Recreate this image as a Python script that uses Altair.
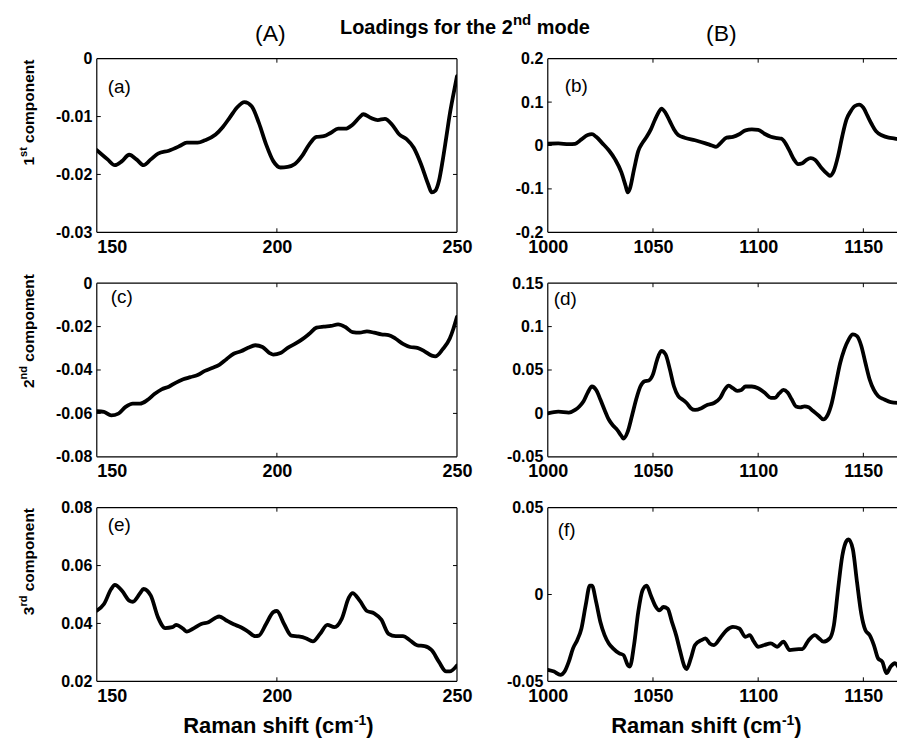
import altair as alt
import pandas as pd

# ---------------- values ----------------
a_x = [150, 153, 155, 157, 159, 161, 163, 165, 167, 170, 173, 175, 178, 180, 183, 185, 187, 189, 191, 193,
       195, 197, 199, 201, 203, 205, 207, 209, 211, 213, 215, 217, 219, 221, 223, 224, 226, 228, 230, 232,
       234, 236, 238, 240, 242, 243, 244, 245, 246, 247, 248, 249, 250]
a_y = [-0.0158, -0.0174, -0.0184, -0.0177, -0.0166, -0.0174, -0.0184, -0.0174, -0.0164, -0.0159,
       -0.0151, -0.0145, -0.0145, -0.0141, -0.0131, -0.0118, -0.0101, -0.0084, -0.0075, -0.0082,
       -0.0111, -0.0148, -0.0177, -0.0188, -0.0187, -0.0182, -0.0168, -0.0148, -0.0135, -0.0134,
       -0.0128, -0.0121, -0.0121, -0.0114, -0.0101, -0.0096, -0.0102, -0.0106, -0.0104, -0.0114,
       -0.0131, -0.0139, -0.0154, -0.0182, -0.0217, -0.0231, -0.0228, -0.0211, -0.0177, -0.0137,
       -0.0096, -0.0062, -0.0030]

b_x = [1000, 1005, 1010, 1013, 1016, 1019, 1021, 1023, 1026, 1029, 1032, 1035, 1037, 1038, 1039, 1041,
       1043, 1045, 1047, 1049, 1051, 1053, 1054, 1056, 1058, 1060, 1062, 1065, 1070, 1075, 1078, 1080,
       1082, 1085, 1088, 1091, 1094, 1097, 1100, 1103, 1106, 1109, 1111, 1113, 1115, 1117, 1119, 1121,
       1123, 1125, 1127, 1130, 1133, 1134, 1136, 1138, 1140, 1142, 1144, 1146, 1148, 1150, 1152, 1154,
       1156, 1159, 1162, 1165, 1167]
b_y = [0.004, 0.005, 0.003, 0.004, 0.014, 0.024, 0.026, 0.020, 0.005, -0.011,
       -0.032, -0.062, -0.093, -0.108, -0.100, -0.055, -0.013, 0.006, 0.020, 0.037,
       0.060, 0.079, 0.085, 0.075, 0.056, 0.037, 0.024, 0.018, 0.012, 0.005,
       0.000, -0.003, 0.005, 0.018, 0.020, 0.026, 0.035, 0.037, 0.036, 0.027,
       0.020, 0.017, 0.016, 0.005, -0.013, -0.032, -0.043, -0.041, -0.033, -0.029,
       -0.033, -0.051, -0.066, -0.070, -0.058, -0.024, 0.022, 0.060, 0.079, 0.091,
       0.094, 0.087, 0.068, 0.049, 0.033, 0.023, 0.018, 0.016, 0.014]

c_x = [150, 152, 154, 156, 158, 160, 162, 164, 166, 168, 170, 172, 174, 176, 178, 180, 182, 184, 186, 188,
       190, 192, 194, 196, 198, 199, 201, 203, 205, 207, 209, 211, 213, 215, 217, 219, 221, 223, 225, 227,
       229, 231, 233, 235, 237, 239, 241, 243, 244, 246, 248, 249, 250]
c_y = [-0.0590, -0.0593, -0.0609, -0.0601, -0.0570, -0.0555, -0.0555, -0.0539, -0.0511, -0.0489,
       -0.0477, -0.0458, -0.0443, -0.0433, -0.0423, -0.0404, -0.0391, -0.0376, -0.0350, -0.0325,
       -0.0314, -0.0298, -0.0286, -0.0294, -0.0322, -0.0329, -0.0322, -0.0298, -0.0280, -0.0259,
       -0.0233, -0.0205, -0.0200, -0.0197, -0.0190, -0.0202, -0.0225, -0.0228, -0.0222, -0.0228,
       -0.0236, -0.0239, -0.0256, -0.0280, -0.0294, -0.0298, -0.0314, -0.0334, -0.0337, -0.0305,
       -0.0255, -0.0210, -0.0155]

d_x = [1000, 1005, 1010, 1013, 1015, 1017, 1019, 1021, 1023, 1025, 1027, 1029, 1031, 1033, 1035, 1036,
       1038, 1040, 1042, 1044, 1046, 1048, 1050, 1052, 1054, 1056, 1058, 1060, 1062, 1064, 1066, 1068,
       1070, 1073, 1076, 1079, 1082, 1084, 1086, 1088, 1090, 1092, 1094, 1097, 1100, 1103, 1106, 1108,
       1110, 1112, 1114, 1116, 1118, 1120, 1122, 1124, 1126, 1129, 1131, 1133, 1135, 1137, 1139, 1141,
       1143, 1145, 1147, 1149, 1151, 1153, 1155, 1157, 1160, 1163, 1167]
d_y = [0.000, 0.002, 0.001, 0.004, 0.008, 0.014, 0.024, 0.031, 0.027, 0.016,
       0.004, -0.007, -0.014, -0.019, -0.026, -0.029, -0.021, -0.003, 0.016, 0.031,
       0.037, 0.038, 0.045, 0.062, 0.072, 0.068, 0.051, 0.031, 0.020, 0.016,
       0.012, 0.006, 0.004, 0.006, 0.010, 0.012, 0.018, 0.027, 0.032, 0.029,
       0.026, 0.027, 0.031, 0.031, 0.029, 0.024, 0.018, 0.018, 0.023, 0.027,
       0.024, 0.016, 0.008, 0.007, 0.008, 0.007, 0.003, -0.003, -0.007, -0.002,
       0.012, 0.035, 0.058, 0.074, 0.085, 0.091, 0.089, 0.078, 0.058, 0.039,
       0.027, 0.020, 0.016, 0.013, 0.012]

e_x = [150, 152, 154, 155, 157, 159, 160, 162, 163, 165, 167, 169, 171, 172, 174, 175, 177, 179, 181, 183,
       184, 186, 188, 190, 192, 194, 195, 197, 199, 200, 202, 204, 206, 208, 210, 212, 214, 216, 218, 220,
       221, 223, 225, 227, 229, 231, 233, 235, 237, 239, 241, 243, 245, 247, 248, 250]
e_y = [0.0444, 0.0467, 0.0519, 0.0533, 0.0513, 0.0479, 0.0475, 0.0504, 0.0519, 0.0496,
       0.0421, 0.0384, 0.0387, 0.0395, 0.0381, 0.0372, 0.0384, 0.0398, 0.0404, 0.0420,
       0.0424, 0.0410, 0.0397, 0.0387, 0.0372, 0.0356, 0.0358, 0.0398, 0.0439, 0.0443,
       0.0398, 0.0358, 0.0355, 0.0349, 0.0338, 0.0364, 0.0395, 0.0387, 0.0416, 0.0490,
       0.0505, 0.0479, 0.0443, 0.0435, 0.0413, 0.0364, 0.0356, 0.0356, 0.0341, 0.0324,
       0.0322, 0.0307, 0.0267, 0.0234, 0.0234, 0.0255]

f_x = [1000, 1003, 1006, 1008, 1010, 1012, 1014, 1016, 1018, 1020, 1021, 1023, 1025, 1027, 1029, 1031,
       1034, 1036, 1038, 1039, 1041, 1043, 1045, 1047, 1049, 1051, 1053, 1055, 1057, 1059, 1061, 1063,
       1065, 1066, 1068, 1070, 1073, 1075, 1077, 1079, 1082, 1085, 1088, 1091, 1094, 1096, 1098, 1100,
       1103, 1106, 1109, 1112, 1115, 1118, 1121, 1124, 1127, 1129, 1131, 1134, 1136, 1138, 1140, 1142,
       1143, 1145, 1147, 1149, 1151, 1153, 1155, 1157, 1159, 1161, 1163, 1165, 1167]
f_y = [-0.0434, -0.0444, -0.0463, -0.0444, -0.0387, -0.0310, -0.0263, -0.0196, -0.0063, 0.0051,
       0.0051, -0.0044, -0.0158, -0.0234, -0.0282, -0.0310, -0.0339, -0.0349, -0.0406, -0.0415,
       -0.0291, -0.0101, 0.0023, 0.0051, -0.0006, -0.0063, -0.0091, -0.0072, -0.0082, -0.0158,
       -0.0234, -0.0330, -0.0415, -0.0429, -0.0368, -0.0291, -0.0263, -0.0253, -0.0282, -0.0291,
       -0.0250, -0.0206, -0.0187, -0.0196, -0.0244, -0.0234, -0.0272, -0.0301, -0.0291, -0.0282,
       -0.0301, -0.0272, -0.0320, -0.0316, -0.0314, -0.0263, -0.0234, -0.0253, -0.0272, -0.0253,
       -0.0177, 0.0032, 0.0223, 0.0309, 0.0318, 0.0261, 0.0070, -0.0110, -0.0206, -0.0234,
       -0.0291, -0.0368, -0.0387, -0.0453, -0.0415, -0.0396, -0.0425]

A_XDOMAIN = [150, 250]
B_XDOMAIN = [1000, 1166]
A_XTICKS = [150, 200, 250]
B_XTICKS = [1000, 1050, 1100, 1150]
a_ydomain, a_yticks = [-0.03, 0], [-0.03, -0.02, -0.01, 0]
b_ydomain, b_yticks = [-0.2, 0.2], [-0.2, -0.1, 0, 0.1, 0.2]
c_ydomain, c_yticks = [-0.08, 0], [-0.08, -0.06, -0.04, -0.02, 0]
d_ydomain, d_yticks = [-0.05, 0.15], [-0.05, 0, 0.05, 0.1, 0.15]
e_ydomain, e_yticks = [0.02, 0.08], [0.02, 0.04, 0.06, 0.08]
f_ydomain, f_yticks = [-0.05, 0.05], [-0.05, 0, 0.05]

PANEL_TAGS = ["(a)", "(b)", "(c)", "(d)", "(e)", "(f)"]
COLUMN_TAGS = ["(A)", "(B)"]
TITLE_PARTS = ["Loadings for the 2", "nd", " mode"]
ROW_LABEL_PARTS = [["1", "st", " component"], ["2", "nd", " compoment"], ["3", "rd", " component"]]
XTITLE_PARTS = ["Raman shift (cm", "-1", ")"]

# ---------------- layout / style ----------------
W_A, W_B, H = 361, 350, 174
COL_GAP, ROW_GAP = 91, 51
LEFT, TOP = 96, 57
FONT = "Liberation Sans, Arial, sans-serif"
LINE_W = 3.8
ONE = pd.DataFrame({"k": [0]})

BOLD_W = {" ": 278, "(": 333, ")": 333, "-": 333, "L": 611, "R": 722, "a": 556, "c": 556, "d": 611,
          "e": 556, "f": 333, "g": 611, "h": 611, "i": 278, "m": 889, "n": 611, "o": 611, "p": 611,
          "r": 389, "s": 556, "t": 333}


def tw(s, size):
    return sum(BOLD_W.get(ch, 556) for ch in s) * size / 1000.0


def text_mark(s, x, y, size, weight="bold", align="left", baseline="alphabetic", angle=None):
    kw = dict(text=s, font=FONT, fontSize=size, fontWeight=weight, align=align,
              baseline=baseline, color="black")
    if angle is not None:
        kw["angle"] = angle
    return alt.Chart(ONE).mark_text(**kw).encode(x=alt.value(x), y=alt.value(y))


def h_pieces(parts, sizes, raises, cx, base_y):
    total = sum(tw(p, s) for p, s in zip(parts, sizes))
    x = cx - total / 2
    out = []
    for p, s, r in zip(parts, sizes, raises):
        lead = tw(p[: len(p) - len(p.lstrip())], s)
        out.append(text_mark(p.strip(), x + lead, base_y - r, s))
        x += tw(p, s)
    return out


def v_pieces(parts, sizes, raises, base_x, cy):
    total = sum(tw(p, s) for p, s in zip(parts, sizes))
    y = cy + total / 2
    out = []
    for p, s, r in zip(parts, sizes, raises):
        lead = tw(p[: len(p) - len(p.lstrip())], s)
        out.append(text_mark(p.strip(), base_x - r, y - lead, s, angle=270))
        y -= tw(p, s)
    return out


def panel(xs, ys, xdom, xticks, ydom, yticks, width, right_border, extras, left_flush_first):
    df = pd.DataFrame({"x": xs, "y": ys})
    xsc = alt.Scale(domain=xdom, nice=False, zero=False)
    ysc = alt.Scale(domain=ydom, nice=False, zero=False)
    xkw = dict(values=xticks, title=None, format="d", labelFlush=False)
    if left_flush_first:
        xkw["labelAlign"] = {"condition": {"test": f"datum.value == {xdom[0]}", "value": "left"},
                             "value": "center"}
    xax = alt.Axis(**xkw)
    yax = alt.Axis(values=yticks, title=None, format=".2~f", labelFlush=False,
                   labelExpr="replace(datum.label, '\u2212', '-')")
    X = alt.X("x:Q", scale=xsc, axis=xax)
    Y = alt.Y("y:Q", scale=ysc, axis=yax)

    line = alt.Chart(df).mark_line(color="black", strokeWidth=LINE_W, interpolate="monotone",
                                   clip=True, strokeJoin="round", strokeCap="round").encode(x=X, y=Y)
    layers = [line]

    xin = [v for v in xticks if xdom[0] < v < xdom[1]]
    yin = [v for v in yticks if ydom[0] < v < ydom[1]]
    tx = alt.Chart(pd.DataFrame({"x": xin})).mark_rule(color="black", strokeWidth=1)
    layers.append(tx.encode(x=X, y=alt.value(0), y2=alt.value(4)))
    layers.append(tx.encode(x=X, y=alt.value(H), y2=alt.value(H - 4)))
    ty = alt.Chart(pd.DataFrame({"y": yin})).mark_rule(color="black", strokeWidth=1)
    layers.append(ty.encode(y=Y, x=alt.value(0), x2=alt.value(4)))
    if right_border:
        layers.append(ty.encode(y=Y, x=alt.value(width), x2=alt.value(width - 4)))

    b = alt.Chart(ONE).mark_rule(color="black", strokeWidth=1.2)
    layers.append(b.encode(x=alt.value(0), x2=alt.value(width), y=alt.value(0)))
    layers.append(b.encode(x=alt.value(0), x2=alt.value(width), y=alt.value(H)))
    layers.append(b.encode(x=alt.value(0), y=alt.value(0), y2=alt.value(H)))
    if right_border:
        layers.append(b.encode(x=alt.value(width), y=alt.value(0), y2=alt.value(H)))

    layers.extend(extras)
    return alt.layer(*layers).properties(width=width, height=H)


def tag(s, x, y):
    return text_mark(s, x, y, 19, weight="normal", align="left", baseline="middle")


row_sizes, row_raises = [15.5, 11, 15.5], [0, 7, 0]
title_sizes, title_raises = [20, 15, 20], [0, 9, 0]
xt_sizes, xt_raises = [22, 14, 22], [0, 8, 0]

anchor = alt.Chart(ONE).mark_rule(opacity=0, strokeWidth=0.01).encode(
    x=alt.value(-LEFT), x2=alt.value(-LEFT), y=alt.value(-TOP), y2=alt.value(-TOP))

extras_a = ([anchor, tag(PANEL_TAGS[0], 11, 28),
             text_mark(COLUMN_TAGS[0], 174, -18, 23, weight="normal", align="center")]
            + h_pieces(TITLE_PARTS, title_sizes, title_raises, 369, -25)
            + v_pieces(ROW_LABEL_PARTS[0], row_sizes, row_raises, -63, 54))
extras_b = [tag(PANEL_TAGS[1], 17, 27),
            text_mark(COLUMN_TAGS[1], 174, -18, 23, weight="normal", align="center")]
extras_c = [tag(PANEL_TAGS[2], 14, 14)] + v_pieces(ROW_LABEL_PARTS[1], row_sizes, row_raises, -63, 48)
extras_d = [tag(PANEL_TAGS[3], 6, 16)]
extras_e = ([tag(PANEL_TAGS[4], 11, 17)]
            + v_pieces(ROW_LABEL_PARTS[2], row_sizes, row_raises, -63, 54)
            + h_pieces(XTITLE_PARTS, xt_sizes, xt_raises, 182, 226))
extras_f = [tag(PANEL_TAGS[5], 10, 22)] + h_pieces(XTITLE_PARTS, xt_sizes, xt_raises, 159, 226)

pa = panel(a_x, a_y, A_XDOMAIN, A_XTICKS, a_ydomain, a_yticks, W_A, True, extras_a, True)
pb = panel(b_x, b_y, B_XDOMAIN, B_XTICKS, b_ydomain, b_yticks, W_B, False, extras_b, False)
pc = panel(c_x, c_y, A_XDOMAIN, A_XTICKS, c_ydomain, c_yticks, W_A, True, extras_c, True)
pd_ = panel(d_x, d_y, B_XDOMAIN, B_XTICKS, d_ydomain, d_yticks, W_B, False, extras_d, False)
pe = panel(e_x, e_y, A_XDOMAIN, A_XTICKS, e_ydomain, e_yticks, W_A, True, extras_e, True)
pf = panel(f_x, f_y, B_XDOMAIN, B_XTICKS, f_ydomain, f_yticks, W_B, False, extras_f, False)

chart = (
    alt.concat(pa, pb, pc, pd_, pe, pf, columns=2,
               spacing={"row": ROW_GAP, "column": COL_GAP}, bounds="flush")
    .properties(padding={"left": 0, "top": 0, "right": 0, "bottom": 0}, background="white")
    .configure_view(stroke="transparent")
    .configure_axis(labelFont=FONT, labelFontWeight="bold", labelColor="black", ticks=False,
                    tickSize=0, domain=False, grid=False, labelOverlap=False)
    .configure_axisX(labelFontSize=18, labelPadding=6)
    .configure_axisY(labelFontSize=16, labelPadding=5)
)

chart.save("out.html", embed_options={"renderer": "svg", "actions": False})
